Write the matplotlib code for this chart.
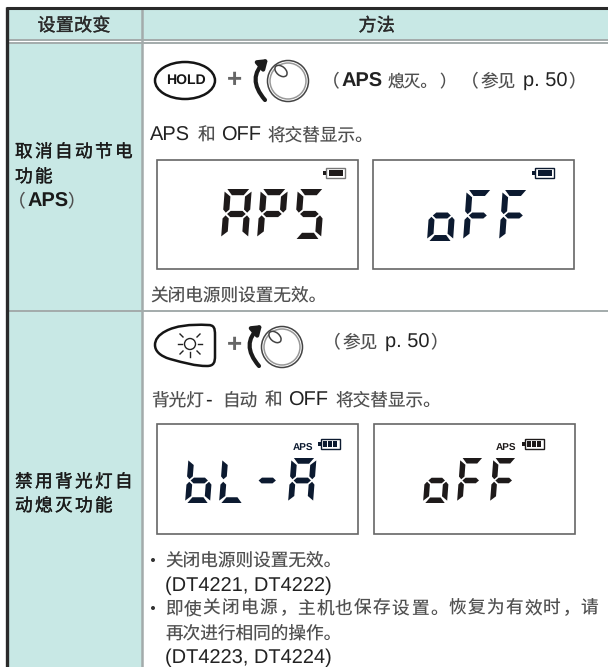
import matplotlib
matplotlib.use("Agg")
import matplotlib.pyplot as plt
import matplotlib.patheffects as pe
from matplotlib.patches import Rectangle, Ellipse, Polygon, Circle, FancyArrowPatch, PathPatch
from matplotlib.path import Path

plt.rcParams['font.family'] = ['Liberation Sans', 'Noto Sans CJK SC']
plt.rcParams['text.hinting'] = 'no_hinting'
plt.rcParams['text.hinting_factor'] = 1

HEADERS = ["设置改变", "方法"]
ROW1_LABEL = ["取消自动节电", "功能"]
ROW2_LABEL = ["禁用背光灯自", "动熄灭功能"]
NOTE_APS = "关闭电源则设置无效。"
LCD_ROW1 = ["APS", "oFF"]
LCD_ROW2 = ["bL-A", "oFF"]
BULLET_LONG = "即使关闭电源，主机也保存设置。恢复为有效时，请"
MODELS = ["(DT4221, DT4222)", "(DT4223, DT4224)"]
CONT_LINE = "再次进行相同的操作。"

TEAL = "#c8e8e5"
GRAY_TXT = "#505050"
DARK_TXT = "#222222"
LINE = "#a3abab"
BORDER = "#2a2a2a"
CJK_SIZE = 12.7
LATIN_SIZE = 14.5

SEGS = {
    "A": "abcefg", "P": "abefg", "S": "acdfg", "o": "cdeg",
    "F": "aefg", "b": "cdefg", "L": "def", "-": "g",
}

fig = plt.figure(figsize=(6.08, 6.67), dpi=100)
ax = fig.add_axes([0, 0, 1, 1])
ax.set_xlim(0, 608)
ax.set_ylim(667, 0)
ax.axis("off")


def cjk(x, y, s, size=CJK_SIZE):
    ax.text(x, y, s, fontsize=size, color=GRAY_TXT, va="baseline", ha="left")


def latin(x, y, s, size=LATIN_SIZE, weight="normal"):
    ax.text(x, y, s, fontsize=size, color=DARK_TXT, weight=weight, va="baseline", ha="left")


def spaced(x, y, s, pitch, size=CJK_SIZE, color=GRAY_TXT, stroke=0.0):
    box = size * 100 / 72
    for i, ch in enumerate(s):
        if ch in "，。":
            t = ax.text(x + i * pitch + 1, y, ch, fontsize=size, color=color, va="baseline", ha="left")
        else:
            t = ax.text(x + i * pitch + box / 2, y, ch, fontsize=size, color=color, va="baseline", ha="center")
        if stroke:
            t.set_path_effects([pe.withStroke(linewidth=stroke, foreground=color)])


def ref_text(x, y):
    cjk(x, y, "（")
    cjk(x + 19, y, "参见")
    latin(x + 62, y, "p. 50")
    cjk(x + 107, y, "）")


def hline(y, x0=8, x1=608, c=LINE, lw=1.4):
    ax.plot([x0, x1], [y, y], color=c, lw=lw, solid_capstyle="butt")


def seven_seg(letter, x, y, w, h, color):
    t = 0.23 * w
    g = 0.05 * w
    c = 0.2 * t
    m = y + h / 2
    sl = 0.14 * w
    r = x + w
    b = y + h

    def px(xx, yy):
        return (xx + sl * (b - yy) / h, yy)
    polys = {
        "a": [(x + c + g, y), (r - c - g, y), (r - t - g, y + t), (x + t + g, y + t)],
        "d": [(x + t + g, b - t), (r - t - g, b - t), (r - c - g, b), (x + c + g, b)],
        "g": [(x + t * 0.45 + g, m), (x + t + g, m - t / 2), (r - t - g, m - t / 2), (r - t * 0.45 - g, m),
              (r - t - g, m + t / 2), (x + t + g, m + t / 2)],
        "f": [(x, y + c + g), (x + t, y + t + g), (x + t, m - t / 2 - g), (x + t * 0.45, m - g), (x, m - t / 2 - g)],
        "b": [(r, y + c + g), (r - t, y + t + g), (r - t, m - t / 2 - g), (r - t * 0.45, m - g), (r, m - t / 2 - g)],
        "e": [(x, m + t / 2 + g), (x + t * 0.45, m + g), (x + t, m + t / 2 + g), (x + t, b - t - g), (x, b - c - g)],
        "c": [(r, m + t / 2 + g), (r - t * 0.45, m + g), (r - t, m + t / 2 + g), (r - t, b - t - g), (r, b - c - g)],
    }
    for seg in SEGS[letter]:
        ax.add_patch(Polygon([px(*p) for p in polys[seg]], closed=True, fc=color, ec="none", zorder=4))


def battery(x, y, color, bars=1, outline=None):
    outline = outline or color
    ax.add_patch(Rectangle((x + 3, y), 19, 10, fc="white", ec=outline, lw=1, zorder=4))
    ax.add_patch(Rectangle((x, y + 3), 3, 4, fc=color, ec="none", zorder=4))
    if bars == 1:
        ax.add_patch(Rectangle((x + 6, y + 2), 13.5, 6, fc=color, ec="none", zorder=5))
    else:
        for i in range(3):
            ax.add_patch(Rectangle((x + 5 + i * 5.2, y + 2), 4, 6, fc=color, ec="none", zorder=5))


def knob(cx, cy):
    ax.add_patch(Circle((cx, cy), 20.5, fc="white", ec="#444444", lw=1.1))
    ax.add_patch(Circle((cx, cy), 18, fc="white", ec="#999999", lw=1.1))
    ax.add_patch(Ellipse((cx - 7, cy - 10), 14, 9, angle=40, fc="white", ec="#444444", lw=1.1))
    ax.add_patch(FancyArrowPatch((cx - 23, cy + 19), (cx - 20, cy - 22), connectionstyle="arc3,rad=-0.5",
                                 arrowstyle="-|>,head_length=5,head_width=3.5", lw=3, color="#1c1c1c",
                                 zorder=5, shrinkA=0, shrinkB=0))


def lcd(x0, y0, w, h, word, xs, top, dh, dw, color):
    ax.add_patch(Rectangle((x0, y0), w, h, fc="white", ec="#666666", lw=1.2, zorder=2))
    for ch, x in zip(word, xs):
        seven_seg(ch, x, top, dw, dh, color)


# backgrounds
ax.add_patch(Rectangle((8, 9), 134, 31, fc=TEAL, ec="none"))
ax.add_patch(Rectangle((142, 9), 466, 31, fc=TEAL, ec="none"))
ax.add_patch(Rectangle((8, 43), 134, 624, fc=TEAL, ec="none"))

# grid
hline(39.8)
hline(43)
hline(311)
ax.plot([141.5, 141.5], [9, 667], color=LINE, lw=1.8)
ax.plot([7.3, 7.3], [7, 667], color=BORDER, lw=2.4, solid_capstyle="butt")
hline(8, x0=6, c=BORDER, lw=2.2)

# header
spaced(37.5, 31, HEADERS[0], 18.3, size=13, color="#2a2a2a", stroke=0.25)
spaced(358.5, 31, HEADERS[1], 18.3, size=13, color="#2a2a2a", stroke=0.25)

# left column labels
for line, y in zip(ROW1_LABEL, [157, 182]):
    spaced(15, y, line, 20, color="#1a1a1a", stroke=0.25)
cjk(8, 207, "（")
ax.text(27, 207, "APS", fontsize=LATIN_SIZE, weight="bold", color="#1a1a1a", va="baseline", ha="left")
cjk(67, 207, "）")
for line, y in zip(ROW2_LABEL, [487, 511]):
    spaced(15, y, line, 20, color="#1a1a1a", stroke=0.25)

# row 1 first line
ax.add_patch(Ellipse((185, 80.5), 60, 37, fc="white", ec="#151515", lw=1.8))
ax.text(186, 80, "HOLD", fontsize=10.2, weight="bold", color="#151515", ha="center", va="center")
ax.text(235, 80, "+", fontsize=19, weight="bold", color="#666666", ha="center", va="center")
knob(288, 81)
cjk(322, 87, "（")
latin(341, 87, "APS", weight="bold")
cjk(388, 87, "熄灭。", size=12)
cjk(439, 87, "）", size=12)
ref_text(461, 87)

# row 1 second line
latin(150, 141, "APS")
cjk(198, 141, "和")
latin(221, 141, "OFF")
cjk(267, 141, "将交替显示。")

# row 1 displays
lcd(157, 160, 201, 109, LCD_ROW1[0], [221, 257, 294], 189, 50, 27, "#1e1a1a")
battery(323, 168, "#1e1a1a", 1, outline="#777777")
lcd(373, 160, 201, 109, LCD_ROW1[1], [427, 463, 499], 190, 51, 26, "#0c1a30")
battery(532, 168, "#0c1a30", 1)
cjk(150, 301, NOTE_APS)

# row 2 first line
ax.add_patch(PathPatch(Path(
    [(208, 325), (190, 324), (175, 326), (166, 331), (158, 335), (155, 340), (155, 345),
     (155, 351), (160, 356), (170, 359), (185, 363), (195, 366), (207, 366),
     (214, 366), (215, 362), (215, 356), (215, 335), (215, 328), (214, 325), (208, 325)],
    [Path.MOVETO] + [Path.CURVE4] * 15 + [Path.LINETO] + [Path.CURVE4] * 3),
    fc="white", ec="#151515", lw=1.8))
ax.add_patch(Circle((190, 344), 5.5, fc="white", ec="#222222", lw=1))
for x0, y0, x1, y1 in [(178, 344, 182, 344), (198, 344, 202, 344), (190, 352, 190, 357),
                       (180, 334, 183, 337), (200, 334, 197, 337), (180, 354, 183, 351), (200, 354, 197, 351)]:
    ax.plot([x0, x1], [y0, y1], color="#222222", lw=1)
ax.text(234, 345, "+", fontsize=19, weight="bold", color="#666666", ha="center", va="center")
knob(282, 347)
ref_text(323, 348)

# row 2 second line
cjk(151, 406, "背光灯")
latin(205, 406, "-")
cjk(222, 406, "自动")
cjk(265, 406, "和")
latin(288, 406, "OFF")
cjk(335, 406, "将交替显示。")

# row 2 displays
lcd(157, 424, 201, 110, LCD_ROW2[0], [185, 219, 253, 288], 458, 45, 25, "#0c1a30")
ax.text(293, 448, "APS", fontsize=7.2, weight="bold", color="#0c1a30", ha="left", va="center", zorder=5)
battery(318, 439, "#0c1a30", 3)
lcd(374, 424, 201, 110, LCD_ROW2[1], [423, 457, 490], 458, 45, 24, "#1e1a1a")
ax.text(496, 448, "APS", fontsize=7.2, weight="bold", color="#1e1a1a", ha="left", va="center", zorder=5)
battery(522, 439, "#1e1a1a", 3)

# bullets
for y in [560, 608]:
    ax.add_patch(Circle((153, y), 2, fc="#333333", ec="none"))
cjk(165, 566, NOTE_APS)
latin(165, 591, MODELS[0])
spaced(165, 614, BULLET_LONG, 18.9)
cjk(165, 638, CONT_LINE)
latin(165, 663, MODELS[1])

fig.savefig("out.png", dpi=100)
